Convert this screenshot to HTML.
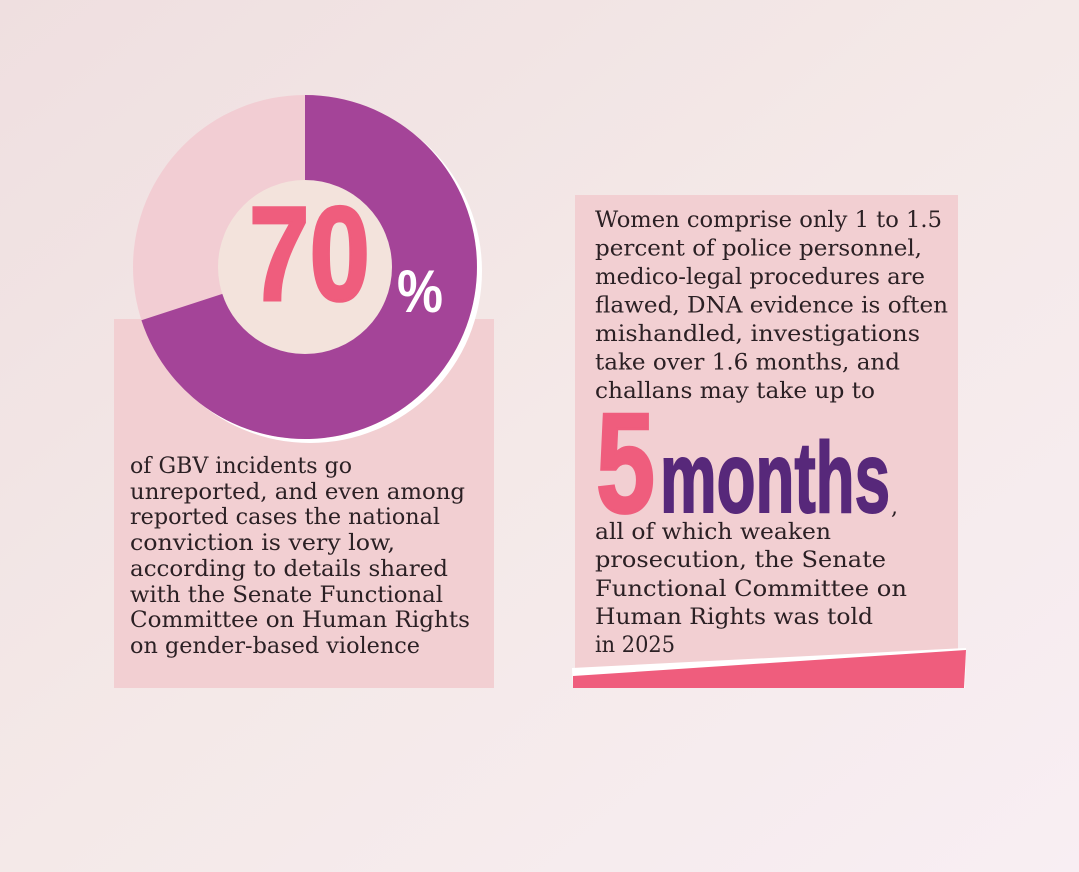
<!DOCTYPE html>
<html><head><meta charset="utf-8"><style>
html,body{margin:0;padding:0;width:1079px;height:872px;overflow:hidden}
svg{display:block}
.t{font-family:"DejaVu Serif","Liberation Serif",serif;font-size:22px;fill:#2b2024}
.b{font-family:"Liberation Sans Narrow","Liberation Sans",sans-serif;font-weight:bold}
</style></head><body>
<svg width="1079" height="872" viewBox="0 0 1079 872" xmlns="http://www.w3.org/2000/svg">
<defs>
<linearGradient id="bg" x1="0" y1="0" x2="1" y2="1">
<stop offset="0" stop-color="#efdfe0"/>
<stop offset="0.5" stop-color="#f4e9e8"/>
<stop offset="1" stop-color="#f8eef3"/>
</linearGradient>
</defs>
<rect width="1079" height="872" fill="url(#bg)"/>
<rect x="114" y="319" width="380" height="369" fill="#f2cfd2"/>
<circle cx="310" cy="271" r="172" fill="#ffffff"/>
<circle cx="305" cy="267" r="172" fill="#f2cdd3"/>
<path d="M305 267 L305 95 A172 172 0 1 1 141.4 320.2 Z" fill="#a44498"/>
<circle cx="305" cy="267" r="87" fill="#f3e3dc"/>
<text class="b" x="249" y="300" font-size="134" fill="#ef5d7d" stroke="#ef5d7d" stroke-width="3" textLength="121" lengthAdjust="spacingAndGlyphs">70</text>
<text class="b" x="397" y="312" font-size="60" fill="#ffffff" textLength="46" lengthAdjust="spacingAndGlyphs">%</text>
<g class="t">
<text x="130" y="473" textLength="222" lengthAdjust="spacingAndGlyphs">of GBV incidents go</text>
<text x="130" y="499" textLength="335" lengthAdjust="spacingAndGlyphs">unreported, and even among</text>
<text x="130" y="524" textLength="310" lengthAdjust="spacingAndGlyphs">reported cases the national</text>
<text x="130" y="550" textLength="265" lengthAdjust="spacingAndGlyphs">conviction is very low,</text>
<text x="130" y="576" textLength="318" lengthAdjust="spacingAndGlyphs">according to details shared</text>
<text x="130" y="602" textLength="313" lengthAdjust="spacingAndGlyphs">with the Senate Functional</text>
<text x="130" y="627" textLength="340" lengthAdjust="spacingAndGlyphs">Committee on Human Rights</text>
<text x="130" y="653" textLength="290" lengthAdjust="spacingAndGlyphs">on gender-based violence</text>
</g>
<rect x="575" y="195" width="383" height="475" fill="#f2cfd2"/>
<polygon points="572,668 966,648 965,688 573,688" fill="#ffffff"/>
<polygon points="573,676 966,650 964,688 573,688" fill="#ef5d7d"/>
<g class="t">
<text x="595" y="227" textLength="347" lengthAdjust="spacingAndGlyphs">Women comprise only 1 to 1.5</text>
<text x="595" y="255.5" textLength="327" lengthAdjust="spacingAndGlyphs">percent of police personnel,</text>
<text x="595" y="284" textLength="330" lengthAdjust="spacingAndGlyphs">medico-legal procedures are</text>
<text x="595" y="312.5" textLength="353" lengthAdjust="spacingAndGlyphs">flawed, DNA evidence is often</text>
<text x="595" y="341" textLength="325" lengthAdjust="spacingAndGlyphs">mishandled, investigations</text>
<text x="595" y="369.5" textLength="305" lengthAdjust="spacingAndGlyphs">take over 1.6 months, and</text>
<text x="595" y="398" textLength="280" lengthAdjust="spacingAndGlyphs">challans may take up to</text>
</g>
<text class="b" x="596" y="512" font-size="142" fill="#ef5d7d" stroke="#ef5d7d" stroke-width="3" textLength="59" lengthAdjust="spacingAndGlyphs">5</text>
<text class="b" x="660" y="512" font-size="100" fill="#57287a" stroke="#57287a" stroke-width="2" textLength="230" lengthAdjust="spacingAndGlyphs">months</text>
<text x="891" y="514" font-family="DejaVu Serif,serif" font-size="22" fill="#2b2024">,</text>
<g class="t">
<text x="595" y="539" textLength="236" lengthAdjust="spacingAndGlyphs">all of which weaken</text>
<text x="595" y="567" textLength="291" lengthAdjust="spacingAndGlyphs">prosecution, the Senate</text>
<text x="595" y="596" textLength="312" lengthAdjust="spacingAndGlyphs">Functional Committee on</text>
<text x="595" y="624" textLength="278" lengthAdjust="spacingAndGlyphs">Human Rights was told</text>
<text x="595" y="652" textLength="80" lengthAdjust="spacingAndGlyphs">in 2025</text>
</g>
</svg>
</body></html>
